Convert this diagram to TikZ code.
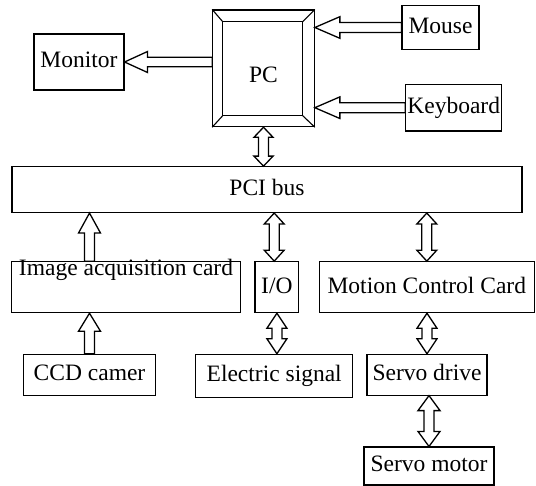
\documentclass[tikz,border=0pt]{standalone}
\usepackage{fontspec}
\setmainfont{Liberation Serif}
\usetikzlibrary{calc}
\tikzset{
  box/.style={draw, line width=1.1bp, inner sep=0pt, text height=16.5bp, text depth=4.7bp,
    font=\fontsize{23.5bp}{28bp}\selectfont},
  fa/.style={draw, fill=white, line width=1.3bp, line join=miter},
  headlen/.store in=\fhl, headwid/.store in=\fhw, shaftwid/.store in=\fsw,
  headlen=12bp, headwid=10bp, shaftwid=5bp,
  fatone/.style={to path={
    let \p1=(\tikztostart), \p2=(\tikztotarget),
        \n1={atan2(\y2-\y1,\x2-\x1)}, \n2={veclen(\x2-\x1,\y2-\y1)} in
    ($(\p1)+(\n1+90:\fsw)$)
    -- ($(\p1)+(\n1:\n2-\fhl)+(\n1+90:\fsw)$)
    -- ($(\p1)+(\n1:\n2-\fhl)+(\n1+90:\fhw)$)
    -- (\p2)
    -- ($(\p1)+(\n1:\n2-\fhl)+(\n1-90:\fhw)$)
    -- ($(\p1)+(\n1:\n2-\fhl)+(\n1-90:\fsw)$)
    -- ($(\p1)+(\n1-90:\fsw)$) -- cycle}},
  fattwo/.style={to path={
    let \p1=(\tikztostart), \p2=(\tikztotarget),
        \n1={atan2(\y2-\y1,\x2-\x1)}, \n2={veclen(\x2-\x1,\y2-\y1)} in
    (\p1)
    -- ($(\p1)+(\n1:\fhl)+(\n1+90:\fhw)$)
    -- ($(\p1)+(\n1:\fhl)+(\n1+90:\fsw)$)
    -- ($(\p1)+(\n1:\n2-\fhl)+(\n1+90:\fsw)$)
    -- ($(\p1)+(\n1:\n2-\fhl)+(\n1+90:\fhw)$)
    -- (\p2)
    -- ($(\p1)+(\n1:\n2-\fhl)+(\n1-90:\fhw)$)
    -- ($(\p1)+(\n1:\n2-\fhl)+(\n1-90:\fsw)$)
    -- ($(\p1)+(\n1:\fhl)+(\n1-90:\fsw)$)
    -- ($(\p1)+(\n1:\fhl)+(\n1-90:\fhw)$) -- cycle}},
}
\begin{document}
\begin{tikzpicture}[x=1bp, y=-1bp]
\useasboundingbox (0,0) rectangle (536,486);

% nodes
\node[box, minimum width=101.6bp, minimum height=116.7bp] (pc) at (263.5,68.35) {\raisebox{-8.7bp}{PC}};
\coordinate (pi1) at (222.7,21.7);
\coordinate (pi2) at (302.7,21.7);
\coordinate (pi3) at (302.7,115.7);
\coordinate (pi4) at (222.7,115.7);
\draw[line width=1.1bp] (pi1) -- (pi2) -- (pi3) -- (pi4) -- cycle;
\draw[line width=1.1bp] (pc.north west) -- (pi1) (pc.north east) -- (pi2)
  (pc.south east) -- (pi3) (pc.south west) -- (pi4);

\node[box, minimum width=90bp, minimum height=56bp] (mon) at (79,62) {Monitor};
\node[box, minimum width=77bp, minimum height=43.6bp] (mouse) at (440.5,27.5) {Mouse};
\node[box, minimum width=96bp, minimum height=46.7bp] (kb) at (453.7,107.7) {Keyboard};
\node[box, minimum width=510bp, minimum height=45.8bp] (pci) at (267,189.6) {PCI bus};
\node[box, minimum width=229.3bp, minimum height=51bp] (img) at (126,287.2) {\raisebox{17.8bp}{Image acquisition card}};
\node[box, minimum width=43.8bp, minimum height=51bp] (io) at (276.9,287.2) {I/O};
\node[box, minimum width=215.5bp, minimum height=51bp] (mcc) at (426.8,287.2) {Motion Control Card};
\node[box, minimum width=132.4bp, minimum height=40.7bp] (ccd) at (89.5,374.7) {CCD camer};
\node[box, minimum width=156.8bp, minimum height=43.4bp] (el) at (274.2,376) {Electric signal};
\node[box, minimum width=120bp, minimum height=40.7bp] (sd) at (427,374.7) {Servo drive};
\node[box, minimum width=130bp, minimum height=38bp] (sm) at (429,466) {Servo motor};

% connectors
\draw[fa, fatone, headlen=23bp, headwid=10.5bp, shaftwid=4.75bp] (pc.west |- mon.east) to (mon.east);
\draw[fa, fatone, headlen=25bp, headwid=10.8bp, shaftwid=5bp] (mouse.west) to (mouse.west -| pc.east);
\draw[fa, fatone, headlen=25bp, headwid=10.8bp, shaftwid=5bp] (kb.west) to (kb.west -| pc.east);
\draw[fa, fattwo, headlen=10bp, headwid=9.5bp] (pc.south) to (pc.south |- pci.north);
\draw[fa, fatone, headlen=20bp, headwid=11bp] (img.north -| ccd.north) to (pci.south -| ccd.north);
\draw[fa, fattwo, headlen=11bp] (pci.south -| el.north) to (io.north -| el.north);
\draw[fa, fattwo, headlen=11bp] (pci.south -| mcc.north) to (mcc.north);
\draw[fa, fatone, headlen=18bp, headwid=11bp] (ccd.north) to (ccd.north |- img.south);
\draw[fa, fattwo, headlen=15bp] (io.south) to (io.south |- el.north);
\draw[fa, fattwo, headlen=15bp] (mcc.south -| sd.north) to (sd.north);
\draw[fa, fattwo, headlen=15bp, headwid=11bp] (sd.south -| sm.north) to (sm.north);
\end{tikzpicture}
\end{document}
